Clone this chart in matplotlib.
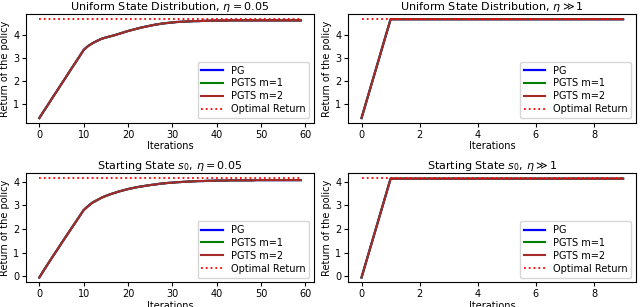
import matplotlib.pyplot as plt

# --------------------------------------------------
# DATA
# --------------------------------------------------
uni_small = [0.40, 0.70, 0.99, 1.29, 1.58, 1.88, 2.17, 2.47, 2.76, 3.05, 3.35,
             3.52, 3.64, 3.74, 3.83, 3.89, 3.94, 3.99, 4.05, 4.11, 4.17,
             4.22, 4.27, 4.32, 4.36, 4.40, 4.44, 4.47, 4.50, 4.52, 4.54,
             4.56, 4.57, 4.58, 4.59, 4.60, 4.60, 4.61, 4.61, 4.62, 4.62,
             4.62, 4.62, 4.63, 4.63, 4.63, 4.63, 4.63, 4.63, 4.63, 4.63,
             4.63, 4.63, 4.63, 4.63, 4.63, 4.63, 4.63, 4.63, 4.63]
uni_large = [0.40, 4.68, 4.68, 4.68, 4.68, 4.68, 4.68, 4.68, 4.68, 4.68]
uni_opt = 4.70

s0_small = [-0.05, 0.25, 0.54, 0.83, 1.11, 1.40, 1.68, 1.96, 2.24, 2.52, 2.80,
            2.97, 3.12, 3.22, 3.32, 3.40, 3.47, 3.53, 3.59, 3.64, 3.69,
            3.73, 3.77, 3.80, 3.83, 3.86, 3.88, 3.91, 3.93, 3.95, 3.96,
            3.98, 3.99, 4.00, 4.01, 4.02, 4.03, 4.03, 4.04, 4.04, 4.05,
            4.05, 4.05, 4.06, 4.06, 4.06, 4.06, 4.06, 4.06, 4.07, 4.07,
            4.07, 4.07, 4.07, 4.07, 4.07, 4.07, 4.07, 4.07, 4.07]
s0_large = [-0.05, 4.13, 4.13, 4.13, 4.13, 4.13, 4.13, 4.13, 4.13, 4.13]
s0_opt = 4.15

panels = [
    ("Uniform State Distribution, $\\eta = 0.05$", uni_small, uni_opt),
    ("Uniform State Distribution, $\\eta \\gg 1$", uni_large, uni_opt),
    ("Starting State $s_0$, $\\eta = 0.05$", s0_small, s0_opt),
    ("Starting State $s_0$, $\\eta \\gg 1$", s0_large, s0_opt),
]

# --------------------------------------------------
# PLOT
# --------------------------------------------------
fig, axes = plt.subplots(2, 2, figsize=(6.4, 3.07), dpi=100)

for ax, (title, vals, opt) in zip(axes.flat, panels):
    it = list(range(len(vals)))
    ax.plot(it, vals, color="blue", linewidth=1.6, label="PG")
    ax.plot(it, vals, color="green", linewidth=1.5, label="PGTS m=1")
    ax.plot(it, vals, color="brown", linewidth=1.5, label="PGTS m=2")
    ax.plot(it, [opt] * len(vals), color="red", linestyle=":", linewidth=1.3,
            label="Optimal Return")
    ax.set_title(title, fontsize=8, pad=2)
    ax.set_xlabel("Iterations", fontsize=7, labelpad=1)
    ax.set_ylabel("Return of the policy", fontsize=7, labelpad=2)
    ax.tick_params(labelsize=7, length=3, pad=2)
    ax.legend(loc="lower right", fontsize=7, handlelength=2.2,
              borderpad=0.4, labelspacing=0.3)

plt.subplots_adjust(left=0.041, right=0.994, top=0.955, bottom=0.08,
                    wspace=0.12, hspace=0.46)
plt.savefig("out.png")
